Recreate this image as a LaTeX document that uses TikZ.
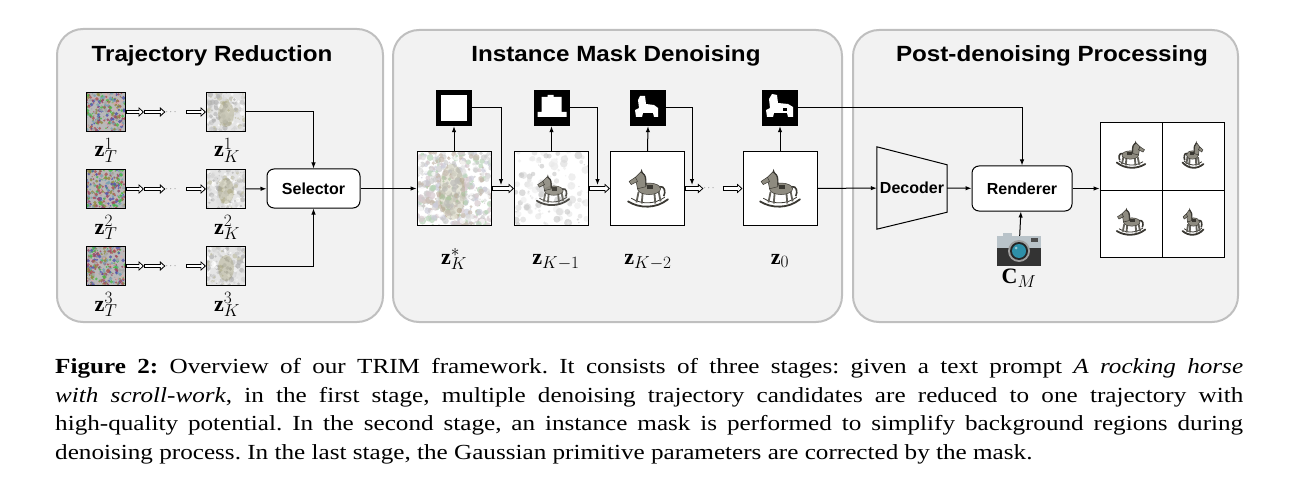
\documentclass[tikz,border=0pt]{standalone}
\usepackage{fontspec}
\setmainfont{Liberation Serif}
\setsansfont{Liberation Sans}
\newfontfamily\capfont{Liberation Serif}[FakeStretch=1.17]
\newfontfamily\titlefont{Liberation Sans}[FakeStretch=1.1]
\usetikzlibrary{arrows.meta,calc}
\DeclareMathSizes{22}{22}{18.5}{15}

\definecolor{panelfill}{HTML}{F2F2F2}
\definecolor{panelline}{HTML}{BFBFBF}
\definecolor{hmetal}{HTML}{8E8B80}
\definecolor{hdark}{HTML}{3A3832}
\definecolor{camtop}{HTML}{B9C3C9}
\definecolor{camlens}{HTML}{2E8FA8}

\pgfmathdeclarerandomlist{vivid}{{pink!70!gray}{green!45!gray}{blue!35!gray}{gray!70}{purple!45!gray}{olive!55!gray}{cyan!35!gray}{red!35!gray}}
\pgfmathdeclarerandomlist{pale}{{gray!45}{gray!25}{white}{gray!60}{olive!25!gray!55}{gray!35}}
\pgfmathdeclarerandomlist{muted}{{gray!40}{green!25!gray!45}{purple!20!gray!35}{white}{gray!25}{brown!35!gray!55}{blue!15!gray!35}}
\pgfmathdeclarerandomlist{faint}{{gray!30}{gray!20}{gray!45}{gray!15}}

% random speckles in a square: x0, y0, size, count, list, max radius, opacity
\newcommand{\speckle}[7]{%
  \begin{scope}
    \clip (#1,#2) rectangle ++(#3,#3);
    \foreach \k in {1,...,#4}{
      \pgfmathsetmacro\spx{#1+#3*rnd}
      \pgfmathsetmacro\spy{#2+#3*rnd}
      \pgfmathsetmacro\spr{0.6+#6*rnd}
      \pgfmathrandomitem{\spc}{#5}
      \fill[\spc, opacity=#7] (\spx,\spy) circle[radius=\spr pt];
    }
  \end{scope}}

% outlined block arrow between two points
\newcommand{\hollowarrow}[2]{%
  \draw[hollowout] (#1) -- (#2);
  \draw[hollowin] (#1) -- (#2);}

\tikzset{
  panel/.style={rectangle, rounded corners=26pt, draw=panelline, line width=2pt, fill=panelfill},
  title/.style={font=\titlefont\bfseries\fontsize{22}{26}\selectfont, inner sep=0pt, anchor=base},
  img/.style={rectangle, draw=black, line width=1pt, inner sep=0pt},
  mask/.style={rectangle, fill=black, inner sep=0pt, minimum size=36pt},
  block/.style={rectangle, rounded corners=7pt, draw, line width=1pt, fill=white,
    font=\sffamily\bfseries\fontsize{16}{19}\selectfont},
  lab/.style={font=\fontsize{22}{26}\selectfont, inner sep=0pt, anchor=base},
  link/.style={line width=1pt, ->},
  hollowout/.style={line width=4.4pt, -{Triangle[length=5.5pt, width=9.5pt]}},
  hollowin/.style={white, line width=2.4pt, shorten <=1pt, shorten >=1.6pt,
    -{Triangle[length=3pt, width=5.5pt]}},
  dots/.style={inner sep=0pt, font=\fontsize{9}{9}\selectfont, text=black!75},
  caption/.style={inner sep=0pt, text width=1188pt, align=justify,
    font=\capfont\fontsize{21.5}{28.5}\selectfont},
  horse/.pic={
    \draw[hdark, line width=1.8pt, line cap=round] (-19,8) .. controls (-8,15) and (8,15) .. (19,6);
    \draw[hdark, line width=0.8pt] (-16,5) .. controls (-6,11) and (6,11) .. (16,4);
    \draw[hmetal!70!black, line width=1.8pt] (-9,-1) -- (-11,9) (-5,-1) -- (-6,10) (6,-1) -- (7,10) (10,-2) -- (12,8);
    \fill[hmetal, draw=hdark, line width=0.5pt] (1,-4) ellipse[x radius=11pt, y radius=5.5pt];
    \fill[hmetal, draw=hdark, line width=0.5pt] (-10,-4) -- (-12,-15) -- (-7,-20) -- (-3,-17) -- (-2,-6) -- cycle;
    \fill[hmetal, draw=hdark, line width=0.5pt] (-12,-15) -- (-18,-11) -- (-16,-8) -- (-10,-11) -- cycle;
    \fill[hdark] (-7,-20) -- (-6,-23) -- (-5,-19) -- cycle;
    \draw[hdark, line width=1.2pt] (-6,-20) .. controls (-2,-16) .. (-2,-7);
    \draw[hdark, line width=1.6pt] (11,-6) .. controls (16,-7) and (17,-1) .. (15,3);
    \fill[hdark] (-1,-8) rectangle (5,-4);
  }
}

\begin{document}
\begin{tikzpicture}[x=1pt, y=-1pt, >={Latex[length=6pt,width=4.5pt]}]
\useasboundingbox (0,0) rectangle (1296,500);
\pgfmathsetseed{11}

% stage panels
\node[panel, minimum width=326pt, minimum height=293pt] (p1) at (220,175.5) {};
\node[panel, minimum width=449pt, minimum height=292pt] (p2) at (617.5,176) {};
\node[panel, minimum width=385pt, minimum height=292pt] (p3) at (1045.5,176) {};
\node[title] (t1) at (212,62) {Trajectory Reduction};
\node[title] (t2) at (616,62) {Instance Mask Denoising};
\node[title] (t3) at (1052,62) {Post-denoising Processing};

% trajectory reduction
\foreach \r/\y in {1/112,2/189,3/266}{
  \fill[gray!55] (86,\y-19.5) rectangle ++(39,39);
  \speckle{86}{\y-19.5}{39}{320}{vivid}{1.4}{0.8}
  \fill[gray!20] (206.5,\y-19.5) rectangle ++(39,39);
  \speckle{206.5}{\y-19.5}{39}{160}{pale}{2.2}{0.7}
  \fill[olive!40!gray, opacity=0.3] (226,\y+2) ellipse[x radius=8pt, y radius=13pt];
  \node[img, minimum size=39pt] (zT\r) at (105.5,\y) {};
  \node[img, minimum size=39pt] (zK\r) at (226,\y) {};
  \node[lab] (lT\r) at (106,\y+45) {$\mathbf{z}_T^{\r}$};
  \node[lab] (lK\r) at (227,\y+45) {$\mathbf{z}_K^{\r}$};
  \coordinate (a\r) at (144,\y);
  \node[dots] (d\r) at (171,\y) {$\cdots$};
  \coordinate (b\r) at (186,\y);
  \hollowarrow{zT\r}{a\r}
  \hollowarrow{a\r}{d\r}
  \hollowarrow{b\r}{zK\r}
}
\node[block, minimum width=93pt, minimum height=39pt] (sel) at (313.5,188.5) {Selector};
\draw[link] (zK1.east) -| (sel.north);
\draw[link] (zK2) -- (sel);
\draw[link] (zK3.east) -| (sel.south);

% instance mask denoising
\fill[white] (417,151.5) rectangle ++(74,74);
\speckle{417}{151.5}{74}{600}{muted}{3}{0.7}
\fill[olive!45!gray, opacity=0.22] (452,192) ellipse[x radius=13pt, y radius=28pt];
\fill[white] (514.5,151.5) rectangle ++(74,74);
\speckle{514.5}{151.5}{74}{130}{faint}{3.5}{0.6}
\node[img, minimum size=74pt] (zs) at (454,188.5) {};
\node[img, minimum size=74pt] (zk1) at (551.5,188.5) {};
\node[img, minimum size=74pt, fill=white] (zk2) at (647.5,188.5) {};
\node[img, minimum size=74pt, fill=white] (z0) at (780,188.5) {};
\pic[scale=0.85, opacity=0.9] at (553,194) {horse};
\pic[scale=1.05] at (648,193) {horse};
\pic[scale=1.05] at (780,193) {horse};
\node[lab] (ls) at (454,264) {$\mathbf{z}_K^{*}$};
\node[lab] (lk1) at (556,264) {$\mathbf{z}_{K-1}$};
\node[lab] (lk2) at (648,264) {$\mathbf{z}_{K-2}$};
\node[lab] (l0) at (780,264) {$\mathbf{z}_0$};

\node[mask] (k1) at (454,108) {};
\node[mask] (k2) at (551.5,108) {};
\node[mask] (k3) at (648,108) {};
\node[mask] (k4) at (780,108) {};
\fill[white] ($(k1)+(-13,-13)$) rectangle ($(k1)+(13,13)$);
\begin{scope}[shift={(k2)}]
  \fill[white] (-10,-11) -- (-4,-11) -- (-4,-13) -- (2,-13) -- (2,-11) -- (10,-11) -- (10,4) -- (15,4) -- (15,9) -- (-14,9) -- (-14,4) -- (-10,4) -- cycle;
\end{scope}
\begin{scope}[shift={(k3)}]
  \fill[white] (-12,9) -- (-13,2) -- (-9,0) -- (-10,-8) -- (-8,-12) -- (-3,-12) -- (-2,-4) -- (6,-3) -- (10,0) -- (10,9) -- (6,9) -- (5,5) -- (-5,5) -- (-6,9) -- cycle;
\end{scope}
\begin{scope}[shift={(k4)}]
  \fill[white] (-13,9) -- (-14,2) -- (-10,0) -- (-11,-9) -- (-8,-14) -- (-3,-13) -- (-2,-5) -- (8,-4) -- (13,-1) -- (13,9) -- (8,9) -- (7,5) -- (-6,5) -- (-7,9) -- cycle;
  \fill[black] (3,0) rectangle (7,3);
\end{scope}

\coordinate (j1) at (501,185);
\coordinate (j2) at (597.5,185);
\coordinate (j3) at (692,185);
\node[dots] (d4) at (709,188.5) {$\cdots$};
\coordinate (e4) at (723,188.5);
\hollowarrow{zs}{zk1}
\hollowarrow{zk1}{zk2}
\hollowarrow{zk2}{d4}
\hollowarrow{e4}{z0}
\draw[link] (sel) -- (zs);
\draw[link] (zs) -- (k1);
\draw[link] (zk1) -- (k2);
\draw[link] (zk2.north) -- (k3.south);
\draw[link] (z0) -- (k4);
\draw[link] (k1.east) -| (j1);
\draw[link] (k2.east) -| (j2);
\draw[link] (k3.east) -| (j3);

% post-denoising processing
\node[inner sep=0pt, minimum width=70pt, minimum height=82pt, font=\sffamily\bfseries\fontsize{16}{19}\selectfont] (dec) at (912,188) {Decoder};
\draw[line width=1pt] (dec.north west) -- ($(dec.north east)+(0,18)$) -- ($(dec.south east)+(0,-17)$) -- (dec.south west) -- cycle;
\node[block, minimum width=100pt, minimum height=45pt] (ren) at (1022,188.5) {Renderer};
\node[img, minimum width=124pt, minimum height=134pt, fill=white] (grid) at (1162,190) {};
\draw[line width=1pt] (grid.north) -- (grid.south);
\draw[line width=1pt] (grid.west) -- (grid.east);
\pic[scale=0.75, xscale=-1] at (1131,158) {horse};
\pic[xscale=-0.55, yscale=0.75] at (1193,158) {horse};
\pic[scale=0.75] at (1131,225) {horse};
\pic[xscale=0.55, yscale=0.75] at (1193,225) {horse};
\node[inner sep=0pt, minimum width=44pt, minimum height=28pt] (cam) at (1019,250) {};
\begin{scope}[shift={(cam.center)}]
  \fill[camtop] (-16,-17) rectangle (-7,-13);
  \fill[camtop] (-22,-14) rectangle (22,-2);
  \fill[black!80] (-22,-2) rectangle (22,16);
  \fill[black!70] (12,-12) rectangle (19,-8);
  \fill[gray!75] (0,1) circle[radius=11pt];
  \fill[black!85] (0,1) circle[radius=9pt];
  \fill[camlens] (0,1) circle[radius=7pt];
  \fill[white, opacity=0.5] (-3,-2) circle[radius=1.5pt];
\end{scope}
\node[lab] (cm) at (1019,283) {$\mathbf{C}_M$};
\draw[link] (z0) -- (dec);
\draw[link] (dec) -- (ren);
\draw[link] (ren.east) -- (ren.east -| grid.west);
\draw[link] (cam) -- (ren);
\draw[link] (k4.east) -| (ren.north);

% caption
\node[caption, anchor=north west] (cap) at (55,358.5) {\frenchspacing\textbf{Figure 2:} Overview of our TRIM framework. It consists of three stages: given a text prompt \textit{A rocking horse}\linebreak \textit{with scroll-work}, in the first stage, multiple denoising trajectory candidates are reduced to one trajectory with\linebreak high-quality potential. In the second stage, an instance mask is performed to simplify background regions during\linebreak denoising process. In the last stage, the Gaussian primitive parameters are corrected by the mask.};
\end{tikzpicture}
\end{document}
